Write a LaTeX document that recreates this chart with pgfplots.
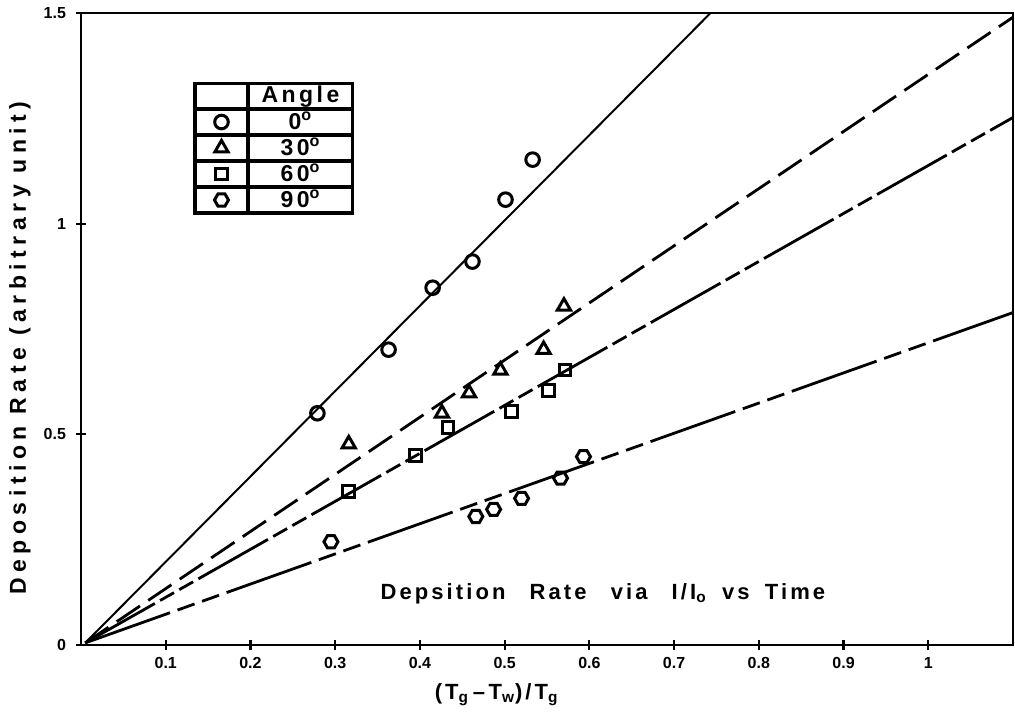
\documentclass[border=0pt]{standalone}
\usepackage{fontspec}
\setmainfont{Liberation Sans}
\newfontfamily\spaced{Liberation Sans}[LetterSpace=14]
\newfontfamily\spacedy{Liberation Sans}[LetterSpace=24]
\newfontfamily\spacedl{Liberation Sans}[LetterSpace=15]
\usepackage{pgfplots}
\pgfplotsset{compat=1.18}
\pgfdeclareplotmark{hexagon}{%
  \pgfpathmoveto{\pgfqpointpolar{0}{\pgfplotmarksize}}%
  \pgfpathlineto{\pgfqpointpolar{60}{\pgfplotmarksize}}%
  \pgfpathlineto{\pgfqpointpolar{120}{\pgfplotmarksize}}%
  \pgfpathlineto{\pgfqpointpolar{180}{\pgfplotmarksize}}%
  \pgfpathlineto{\pgfqpointpolar{240}{\pgfplotmarksize}}%
  \pgfpathlineto{\pgfqpointpolar{300}{\pgfplotmarksize}}%
  \pgfpathclose\pgfusepathqstroke}
\begin{document}
\begin{tikzpicture}
\begin{axis}[
  at={(0,0)}, anchor=south west,
  scale only axis, width=466pt, height=316pt,
  xmin=0, xmax=1.1, ymin=0, ymax=1.5,
  axis line style={line width=1.4pt},
  xtick={0.1,0.2,0.3,0.4,0.5,0.6,0.7,0.8,0.9,1.0},
  xticklabels={0.1,0.2,0.3,0.4,0.5,0.6,0.7,0.8,0.9,1},
  ytick={0,0.5,1,1.5},
  yticklabels={0,0.5,1,1.5},
  tick align=center, major tick length=5pt,
  tick style={line width=1.1pt, black},
  xtick pos=bottom, ytick pos=left,
  /pgf/number format/assume math mode=true,
  ticklabel style={font=\bfseries\fontsize{8}{9}\selectfont},
  yticklabel style={xshift=-1.5pt},
  every axis x label/.style={at={(axis description cs:0.446,-0.078)}, anchor=center},
  every axis y label/.style={at={(axis description cs:-0.0655,0.47)}, rotate=90, anchor=center},
  xlabel={\spaced\bfseries\fontsize{11}{12}\selectfont (T\textsubscript{g}\,–\,T\textsubscript{w})/T\textsubscript{g}},
  ylabel={\spacedy\bfseries\fontsize{11.5}{12}\selectfont Deposition Rate (arbitrary unit)},
  legend style={at={(axis description cs:0.1223,0.8892)}, anchor=north west,
    draw=black, line width=1.5pt, fill=white, inner sep=0pt, outer sep=0pt,
    row sep=0pt, column sep=0pt,
    font=\spacedl\bfseries\fontsize{11.5}{12}\selectfont,
    nodes={draw=black, line width=1pt, minimum width=51.5pt, minimum height=12pt,
      inner sep=0pt, anchor=center}},
  legend image code/.code={%
    \draw[black, line width=1pt, solid] (0pt,-6pt) rectangle (25.5pt,6pt);
    \draw[#1] plot coordinates {(12.75pt,0pt)};},
]
\addlegendimage{draw=none, mark=none}
\addlegendentry{Angle}
% fitted lines
\addplot[forget plot, black, line width=1pt, solid] coordinates {(0.005,0.005) (0.743,1.5)};
\addplot[forget plot, black, line width=1.4pt, dash pattern=on 14pt off 5pt] coordinates {(0.005,0.005) (1.1,1.49)};
\addplot[forget plot, black, line width=1.4pt, dash pattern=on 40pt off 3pt on 8pt off 3pt on 8pt off 3pt] coordinates {(0.005,0.005) (1.1,1.252)};
\addplot[forget plot, black, line width=1.4pt, dash pattern=on 45pt off 4pt on 9pt off 4pt on 9pt off 4pt] coordinates {(0.005,0.005) (1.1,0.789)};
% data
\addplot[only marks, mark=o, mark size=3.4pt, line width=1.5pt, black, mark options={solid}]
  coordinates {(0.279,0.550) (0.363,0.701) (0.415,0.848) (0.462,0.910) (0.501,1.057) (0.533,1.152)};
\addlegendentry{0\textsuperscript{o}}
\addplot[only marks, mark=triangle, mark size=3.8pt, line width=1.5pt, black, mark options={solid}]
  coordinates {(0.316,0.477) (0.426,0.550) (0.458,0.598) (0.495,0.652) (0.546,0.701) (0.570,0.804)};
\addlegendentry{30\textsuperscript{o}}
\addplot[only marks, mark=square, mark size=2.9pt, line width=1.5pt, black, mark options={solid}]
  coordinates {(0.316,0.364) (0.395,0.450) (0.433,0.516) (0.508,0.554) (0.552,0.604) (0.571,0.653)};
\addlegendentry{60\textsuperscript{o}}
\addplot[only marks, mark=hexagon, mark size=3.5pt, line width=1.5pt, black, mark options={solid}]
  coordinates {(0.295,0.245) (0.466,0.305) (0.487,0.322) (0.520,0.348) (0.566,0.396) (0.593,0.447)};
\addlegendentry{90\textsuperscript{o}}
\node[font=\spaced\bfseries\fontsize{11}{12}\selectfont] at (axis cs:0.616,0.121)
  {Depsition\hspace{1.1em}Rate\hspace{1.1em}via\hspace{1.1em}I/I\textsubscript{o}\hspace{0.7em}vs\hspace{0.7em}Time};
\end{axis}
\pgfresetboundingbox
\path (-40.5pt,-39pt) rectangle (467pt,322.5pt);
\end{tikzpicture}
\end{document}
